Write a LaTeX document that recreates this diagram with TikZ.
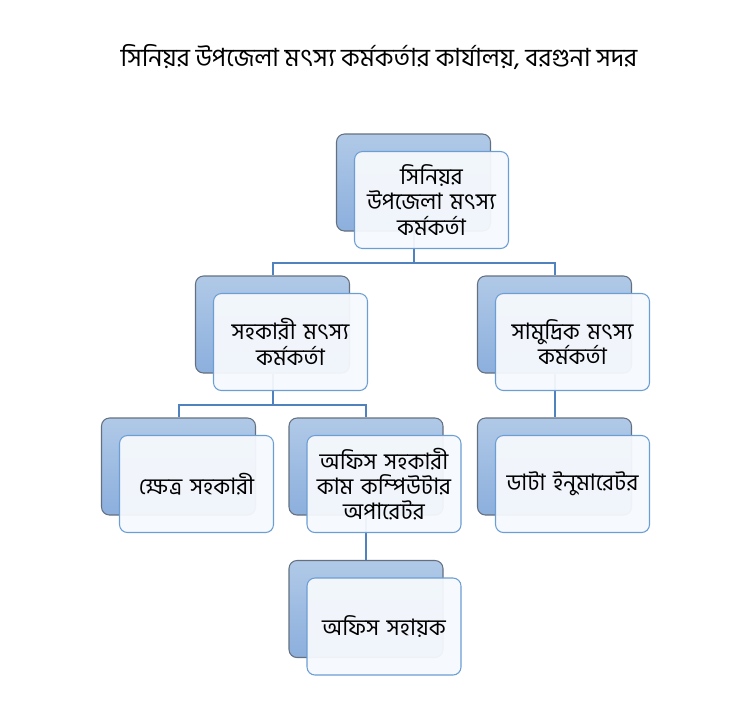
\documentclass[tikz,border=0pt]{standalone}
\usepackage{fontspec}
\newfontfamily\bn[Script=Bengali]{Hind Siliguri}
\usetikzlibrary{calc}
\definecolor{backtop}{RGB}{176,201,231}
\definecolor{backbot}{RGB}{140,175,221}
\definecolor{backedge}{RGB}{100,112,128}
\definecolor{frontfill}{RGB}{246,249,253}
\definecolor{frontedge}{RGB}{108,158,212}
\definecolor{conn}{RGB}{80,130,190}
\tikzset{
  backbox/.style={rounded corners=6pt, draw=backedge, line width=0.8pt,
    top color=backtop, bottom color=backbot,
    minimum width=115.5pt, minimum height=72.75pt, inner sep=0pt},
  frontbox/.style={rounded corners=6pt, draw=frontedge, line width=0.8pt,
    fill=frontfill, fill opacity=0.95, text opacity=1,
    minimum width=115.5pt, minimum height=72.75pt, inner sep=1pt,
    align=center, text width=113pt, font=\bn\fontsize{17}{19}\selectfont},
  connector/.style={draw=conn, line width=1.5pt},
  title/.style={font=\bn\fontsize{18.8}{22}\selectfont}
}
\begin{document}
\begin{tikzpicture}[x=0.75pt,y=-0.75pt]
\useasboundingbox (0,0) rectangle (738,726);
% title
\node[title] (ttl) at (379,57) {সিনিয়র উপজেলা মৎস্য কর্মকর্তার কার্যালয়, বরগুনা সদর};
% back boxes
\node[backbox] (topb) at (413.5,182.5) {};
\node[backbox] (sahb) at (272.5,324.5) {};
\node[backbox] (samb) at (554.5,324.5) {};
\node[backbox] (kshb) at (178.5,466.5) {};
\node[backbox] (offb) at (366,466.5) {};
\node[backbox] (datb) at (554.5,466.5) {};
\node[backbox] (shyb) at (366,609) {};
% connectors
\draw[connector] (topb.south) -- ++(0,31) coordinate (bus1);
\draw[connector] (bus1) -| (sahb.north);
\draw[connector] (bus1) -| (samb.north);
\draw[connector] (sahb.south) -- ++(0,31) coordinate (bus2);
\draw[connector] (bus2) -| (kshb.north);
\draw[connector] (bus2) -| (offb.north);
\draw[connector] (samb.south) -- (datb.north);
\draw[connector] (offb.south) -- (shyb.north);
% front boxes
\node[frontbox] (top) at ([shift={(18,17.5)}]topb.center) {সিনিয়র\\উপজেলা মৎস্য\\কর্মকর্তা};
\node[frontbox] (sah) at ([shift={(18,17.5)}]sahb.center) {সহকারী মৎস্য\\কর্মকর্তা};
\node[frontbox] (sam) at ([shift={(18,17.5)}]samb.center) {সামুদ্রিক মৎস্য\\কর্মকর্তা};
\node[frontbox] (ksh) at ([shift={(18,17.5)}]kshb.center) {ক্ষেত্র সহকারী};
\node[frontbox] (off) at ([shift={(18,17.5)}]offb.center) {অফিস সহকারী\\কাম কম্পিউটার\\অপারেটর};
\node[frontbox] (dat) at ([shift={(18,17.5)}]datb.center) {ডাটা ইনুমারেটর};
\node[frontbox] (shy) at ([shift={(18,17.5)}]shyb.center) {অফিস সহায়ক};
\end{tikzpicture}
\end{document}
